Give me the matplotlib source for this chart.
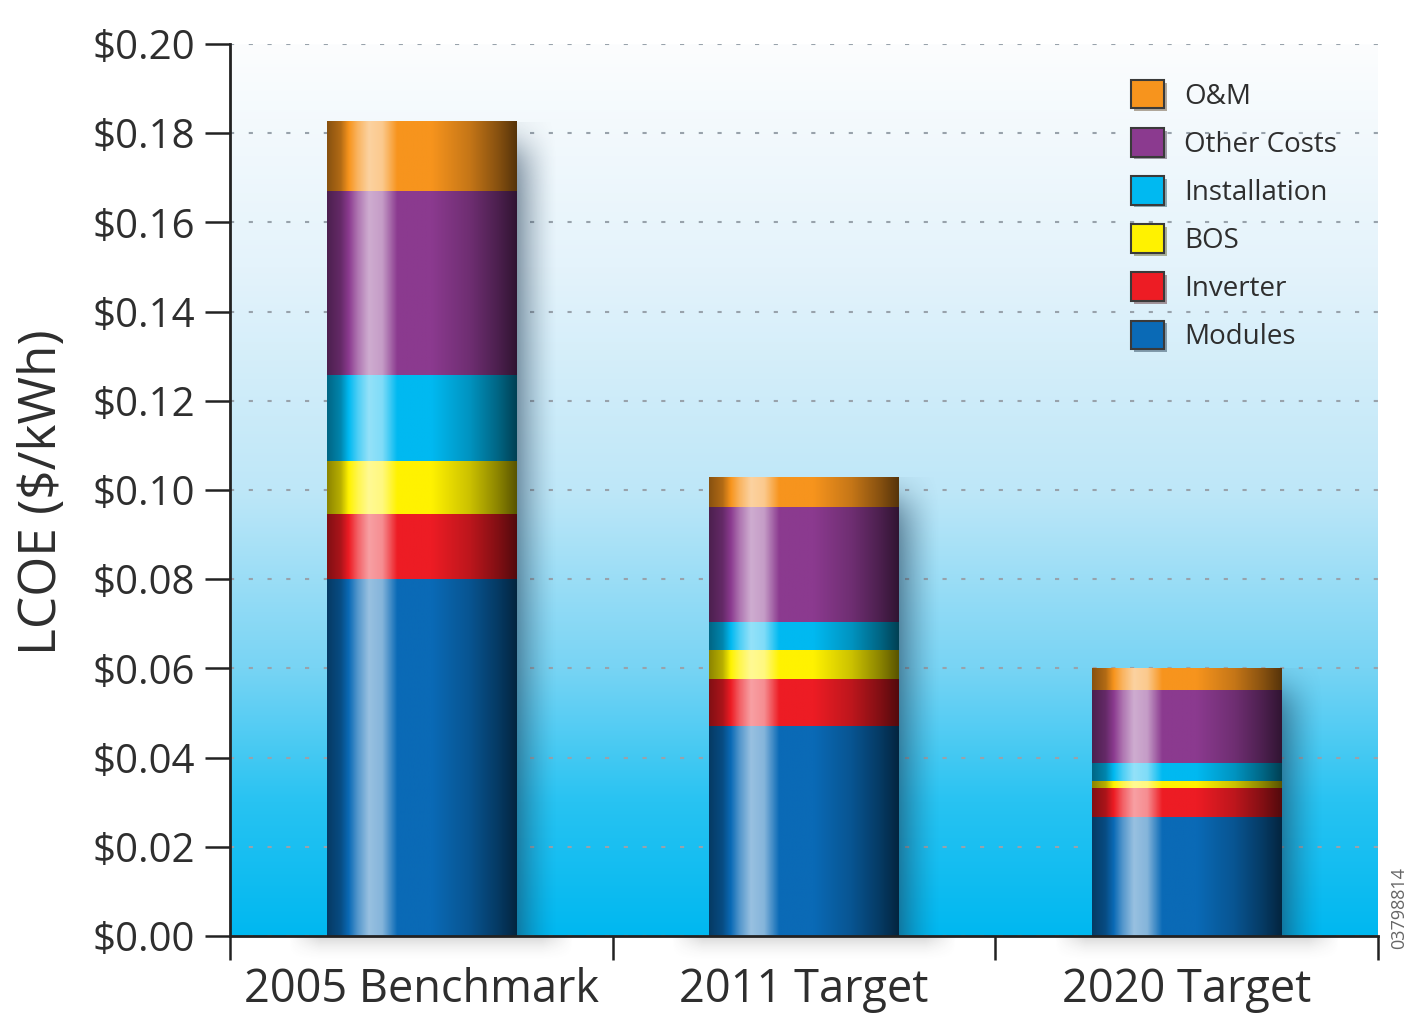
import numpy as np
import matplotlib
matplotlib.use("Agg")
import matplotlib.pyplot as plt
import matplotlib.patheffects as pe
from matplotlib.patches import Patch

plt.rcParams['font.family'] = ['Open Sans', 'DejaVu Sans']

# LCOE breakdown, $/kWh
categories = ['2005 Benchmark', '2011 Target', '2020 Target']
modules = [0.0800, 0.0470, 0.0267]
inverter = [0.0146, 0.0107, 0.0065]
bos = [0.0119, 0.0065, 0.0016]
installation = [0.0193, 0.0063, 0.0040]
other_costs = [0.0412, 0.0256, 0.0164]
om = [0.0155, 0.0067, 0.0048]

components = ['Modules', 'Inverter', 'BOS', 'Installation', 'Other Costs', 'O&M']
series = [modules, inverter, bos, installation, other_costs, om]
colors = ['#0a6ab6', '#ed1c24', '#fff200', '#00b9f1', '#8b3a8f', '#f7941d']

yticks = np.arange(0, 0.2001, 0.02)
ytick_labels = ['$%.2f' % v for v in yticks]

text_col = '#2e2e2e'
bar_w = 0.495


def hex_rgb(h):
    h = h.lstrip('#')
    return np.array([int(h[i:i + 2], 16) for i in (0, 2, 4)]) / 255.0


def cylinder(base, n=240):
    # horizontal shading: dark edges, bright streak left of centre
    t = np.linspace(0, 1, n)
    f = np.interp(t, [0, 0.07, 0.16, 0.22, 0.29, 0.37, 0.55, 0.75, 0.9, 1.0],
                  [-0.45, -0.28, 0.3, 0.58, 0.5, 0.0, 0.0, -0.2, -0.45, -0.65])
    rgb = np.empty((1, n, 3))
    for k in range(3):
        c = base[k]
        rgb[0, :, k] = np.where(f > 0, c + f * (1 - c), c * (1 + f))
    return rgb


fig = plt.figure(figsize=(14.08, 10.13), dpi=100)
ax = fig.add_axes([230 / 1408, 1 - 936 / 1013, 1148 / 1408, 892 / 1013])

# background: white at top fading to cyan at the bottom
s = np.linspace(0, 1, 400)[:, None]
stops = [0, 0.15, 0.3, 0.5, 0.75, 1.0]
bg_r = np.interp(s, stops, [0, 40, 120, 190, 228, 252]) / 255
bg_g = np.interp(s, stops, [184, 195, 212, 231, 243, 253]) / 255
bg_b = np.interp(s, stops, [240, 242, 244, 248, 251, 254]) / 255
bg = np.dstack([bg_r, bg_g, bg_b])
ax.imshow(bg, extent=(0, 3, 0, 0.2), origin='lower', aspect='auto',
          interpolation='bilinear', zorder=-2)

for yv in yticks:
    ax.axhline(yv, color='#98a2ab', lw=1.5, ls=(0, (2, 7)), zorder=-1)

x = np.arange(len(categories)) + 0.5
totals = np.sum(series, axis=0)

# soft drop shadow right of each bar
for xi, tot in zip(x, totals):
    xr = xi + bar_w / 2
    xs = np.linspace(xr - 0.02, xr + 0.15, 120)
    ys = np.linspace(0, tot, 200)
    ax_ = np.clip(1 - (xs - xr) / 0.11, 0, 1) ** 1.6
    ay_ = 1 / (1 + np.exp(-(tot - 0.005 - ys) / 0.0025))
    sh = np.zeros((len(ys), len(xs), 4))
    sh[..., 0] = 0.12
    sh[..., 1] = 0.22
    sh[..., 2] = 0.32
    sh[..., 3] = 0.5 * ay_[:, None] * ax_[None, :]
    ax.imshow(sh, extent=(xs[0], xs[-1], 0, tot), origin='lower', aspect='auto',
              interpolation='bilinear', zorder=1)

    # faint shadow cast below the axis line
    xs2 = np.linspace(xi - bar_w / 2 - 0.1, xi + bar_w / 2 + 0.15, 160)
    ys2 = np.linspace(-0.006, 0, 30)
    wx = np.clip(np.minimum(xs2 - xs2[0], xs2[-1] - xs2) / 0.08, 0, 1)
    wy = (ys2 - ys2[0]) / (ys2[-1] - ys2[0])
    sh2 = np.zeros((len(ys2), len(xs2), 4))
    sh2[..., :3] = 0.3
    sh2[..., 3] = 0.22 * wy[:, None] ** 2 * wx[None, :]
    im2 = ax.imshow(sh2, extent=(xs2[0], xs2[-1], ys2[0], ys2[-1]),
                    origin='lower', aspect='auto', interpolation='bilinear',
                    zorder=1)
    im2.set_clip_on(False)

# stacked cylindrical bars
bottom = np.zeros(len(categories))
for vals, col in zip(series, colors):
    img = cylinder(hex_rgb(col))
    for i, (xi, v) in enumerate(zip(x, vals)):
        ax.imshow(img, extent=(xi - bar_w / 2, xi + bar_w / 2, bottom[i], bottom[i] + v),
                  aspect='auto', interpolation='bilinear', zorder=2)
    bottom += np.array(vals)

ax.set_xlim(0, 3)
ax.set_ylim(0, 0.2)

for side in ('top', 'right'):
    ax.spines[side].set_visible(False)
for side in ('left', 'bottom'):
    ax.spines[side].set_linewidth(2)
    ax.spines[side].set_color('#222222')
    ax.spines[side].set_zorder(3)

ax.set_yticks(yticks)
ax.set_yticklabels(ytick_labels)
ax.tick_params(axis='y', direction='out', length=18, width=1.8, pad=7,
               labelsize=29, labelcolor=text_col, color='#222222')

ax.set_xticks(x)
ax.set_xticklabels(categories)
ax.tick_params(axis='x', which='major', length=0, pad=22, labelsize=32.5,
               labelcolor=text_col)
ax.set_xticks([0, 1, 2, 3], minor=True)
ax.tick_params(axis='x', which='minor', direction='out', length=17, width=1.8,
               color='#222222')

fig.text(0.030, 1 - 492 / 1013, 'LCOE ($/kWh)', rotation=90, ha='center',
         va='center', fontsize=37, color=text_col)

shadow_fx = [pe.SimplePatchShadow(offset=(2, -2), alpha=0.4), pe.Normal()]
handles = [Patch(facecolor=c, edgecolor='#3a3a3a', lw=1.5, label=n,
                 path_effects=shadow_fx)
           for n, c in zip(components, colors)][::-1]
leg = ax.legend(handles=handles, loc='upper left',
                bbox_to_anchor=(1131 / 1408, 1 - 80 / 1013),
                bbox_transform=fig.transFigure, frameon=False, borderpad=0,
                borderaxespad=0, fontsize=20, handlelength=1.2, handleheight=1.2,
                labelspacing=0.63, handletextpad=0.7)
for t in leg.get_texts():
    t.set_color(text_col)

fig.text(1399 / 1408, 1 - 908 / 1013, '03798814', rotation=90, ha='center',
         va='center', fontsize=13, color='#666666')

fig.savefig('out.png', dpi=100)
